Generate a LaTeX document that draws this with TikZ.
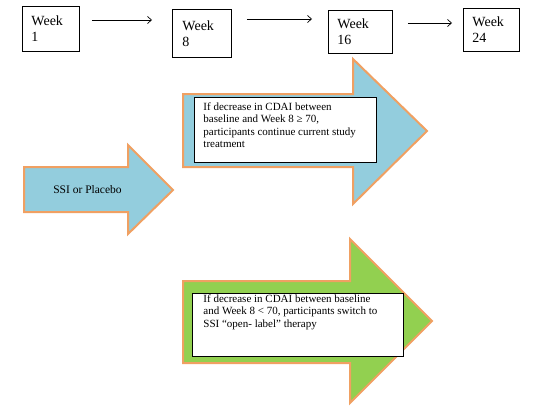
\documentclass[tikz,border=0pt]{standalone}
\usepackage{fontspec}
\setmainfont{Liberation Serif}
\usetikzlibrary{arrows.meta}
\definecolor{arrowblue}{RGB}{147,205,221}
\definecolor{arroworange}{RGB}{240,160,98}
\definecolor{arrowgreen}{RGB}{146,208,80}
\begin{document}
\begin{tikzpicture}[x=1pt,y=-1pt,
  weekbox/.style={draw=black, line width=0.9pt, fill=white, anchor=north west,
    inner ysep=0pt, align=left, font=\fontsize{14}{16}\selectfont},
  conn/.style={draw=black, line width=0.7pt, -{Straight Barb[length=4pt,width=7pt]}},
  blockarrow/.style={draw=arroworange, line width=2pt, line join=miter},
  infobox/.style={draw=black, line width=0.9pt, fill=white, anchor=north west,
    inner ysep=0pt, font=\fontsize{11}{12.5}\selectfont}
]
\useasboundingbox (0,0) rectangle (548,415);
\fill[white] (0,0) rectangle (548,415);

% week boxes
\node[weekbox, inner xsep=9pt, text width=39pt, minimum height=45pt] (w1) at (22,6) {Week\\1};
\node[weekbox, inner xsep=10pt, text width=39pt, minimum height=48pt] (w8) at (172,9) {Week\\8};
\node[weekbox, inner xsep=9pt, text width=46pt, minimum height=43pt] (w16) at (328,10) {Week\\16};
\node[weekbox, inner xsep=9pt, text width=38pt, minimum height=43pt] (w24) at (463,8) {Week\\24};

% connectors
\draw[conn, shorten <=12pt, shorten >=20pt] (w1.east |- 0,20) -- (w8.west |- 0,20);
\draw[conn, shorten <=15pt, shorten >=16pt] (w8.east |- 0,19) -- (w16.west |- 0,19);
\draw[conn, shorten <=15pt, shorten >=11pt] (w16.east |- 0,23) -- (w24.west |- 0,23);

% block arrows
\filldraw[blockarrow, fill=arrowblue]
  (183,94) -- (353,94) -- (353,59) -- (427,131) -- (353,204) -- (353,167) -- (183,167) -- cycle;
\filldraw[blockarrow, fill=arrowblue]
  (24,167) -- (128,167) -- (128,145) -- (173,190) -- (128,234) -- (128,212) -- (24,212) -- cycle;
\filldraw[blockarrow, fill=arrowgreen]
  (183,281) -- (350,281) -- (350,239) -- (432,321) -- (350,403) -- (350,363) -- (183,363) -- cycle;

\node[font=\fontsize{11.5}{13}\selectfont, inner sep=0pt] (ssi) at (87.5,190) {SSI or Placebo};

% text boxes
\node[infobox, inner xsep=9pt] (cont) at (194,97)
  {\parbox[c][65pt][t]{164pt}{\raggedright\vspace*{4pt}\strut If decrease in CDAI between\\
   baseline and Week 8 ≥ 70,\\ participants continue current study\\ treatment}};
\node[infobox, inner xsep=11pt] (switch) at (192,293)
  {\parbox[c][63pt][t]{189pt}{\raggedright\strut If decrease in CDAI between baseline\\
   and Week 8 < 70, participants switch to\\ SSI “open- label” therapy}};
\end{tikzpicture}
\end{document}
